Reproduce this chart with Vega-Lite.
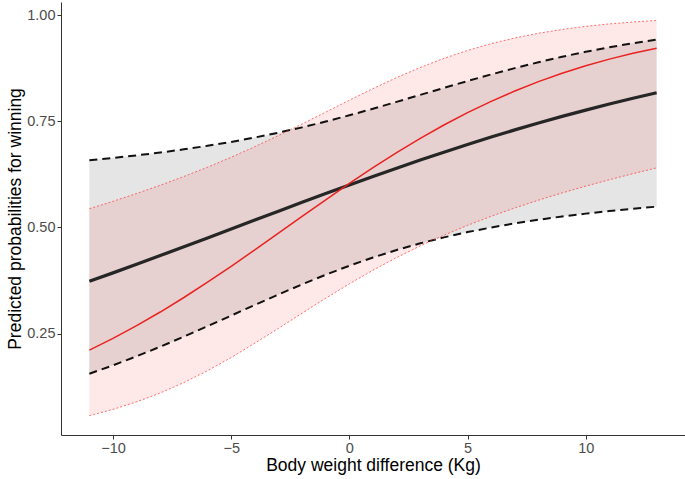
{
  "$schema": "https://vega.github.io/schema/vega-lite/v6.json",
  "width": 624,
  "height": 433,
  "autosize": "none",
  "padding": {"left": 61, "top": 2, "right": 0, "bottom": 44},
  "background": "white",
  "config": {
    "view": {"stroke": null},
    "font": "Liberation Sans",
    "axis": {"grid": false, "domainColor": "#333333", "domainWidth": 1, "tickColor": "#333333", "tickSize": 4, "tickWidth": 1, "labelColor": "#4d4d4d", "labelFontSize": 14.5, "labelPadding": 2, "titleColor": "#000000", "titleFontSize": 17.5, "titleFontWeight": "normal"}
  },
  "datasets": {
    "pred": [
      {"x": -11, "m": "black", "fit": 0.3731, "lo": 0.1553, "hi": 0.6582},
      {"x": -10, "m": "black", "fit": 0.3929, "lo": 0.1751, "hi": 0.6637},
      {"x": -9, "m": "black", "fit": 0.4131, "lo": 0.1964, "hi": 0.6697},
      {"x": -8, "m": "black", "fit": 0.4336, "lo": 0.2190, "hi": 0.6764},
      {"x": -7, "m": "black", "fit": 0.4544, "lo": 0.2427, "hi": 0.6839},
      {"x": -6, "m": "black", "fit": 0.4753, "lo": 0.2673, "hi": 0.6922},
      {"x": -5, "m": "black", "fit": 0.4963, "lo": 0.2923, "hi": 0.7014},
      {"x": -4, "m": "black", "fit": 0.5172, "lo": 0.3174, "hi": 0.7118},
      {"x": -3, "m": "black", "fit": 0.5382, "lo": 0.3420, "hi": 0.7232},
      {"x": -2, "m": "black", "fit": 0.5590, "lo": 0.3659, "hi": 0.7357},
      {"x": -1, "m": "black", "fit": 0.5796, "lo": 0.3886, "hi": 0.7494},
      {"x": 0, "m": "black", "fit": 0.5999, "lo": 0.4097, "hi": 0.7641},
      {"x": 1, "m": "black", "fit": 0.6199, "lo": 0.4292, "hi": 0.7796},
      {"x": 2, "m": "black", "fit": 0.6395, "lo": 0.4468, "hi": 0.7957},
      {"x": 3, "m": "black", "fit": 0.6586, "lo": 0.4625, "hi": 0.8122},
      {"x": 4, "m": "black", "fit": 0.6772, "lo": 0.4765, "hi": 0.8287},
      {"x": 5, "m": "black", "fit": 0.6953, "lo": 0.4890, "hi": 0.8448},
      {"x": 6, "m": "black", "fit": 0.7128, "lo": 0.4999, "hi": 0.8604},
      {"x": 7, "m": "black", "fit": 0.7297, "lo": 0.5096, "hi": 0.8752},
      {"x": 8, "m": "black", "fit": 0.7460, "lo": 0.5181, "hi": 0.8891},
      {"x": 9, "m": "black", "fit": 0.7615, "lo": 0.5257, "hi": 0.9020},
      {"x": 10, "m": "black", "fit": 0.7764, "lo": 0.5325, "hi": 0.9137},
      {"x": 11, "m": "black", "fit": 0.7907, "lo": 0.5385, "hi": 0.9244},
      {"x": 12, "m": "black", "fit": 0.8042, "lo": 0.5440, "hi": 0.9340},
      {"x": 13, "m": "black", "fit": 0.8171, "lo": 0.5489, "hi": 0.9426},
      {"x": -11, "m": "red", "fit": 0.2111, "lo": 0.0567, "hi": 0.5440},
      {"x": -10, "m": "red", "fit": 0.2387, "lo": 0.0713, "hi": 0.5615},
      {"x": -9, "m": "red", "fit": 0.2685, "lo": 0.0890, "hi": 0.5799},
      {"x": -8, "m": "red", "fit": 0.3007, "lo": 0.1100, "hi": 0.5993},
      {"x": -7, "m": "red", "fit": 0.3349, "lo": 0.1345, "hi": 0.6200},
      {"x": -6, "m": "red", "fit": 0.3709, "lo": 0.1625, "hi": 0.6419},
      {"x": -5, "m": "red", "fit": 0.4085, "lo": 0.1935, "hi": 0.6653},
      {"x": -4, "m": "red", "fit": 0.4472, "lo": 0.2271, "hi": 0.6902},
      {"x": -3, "m": "red", "fit": 0.4865, "lo": 0.2622, "hi": 0.7164},
      {"x": -2, "m": "red", "fit": 0.5260, "lo": 0.2979, "hi": 0.7437},
      {"x": -1, "m": "red", "fit": 0.5651, "lo": 0.3332, "hi": 0.7717},
      {"x": 0, "m": "red", "fit": 0.6035, "lo": 0.3672, "hi": 0.7997},
      {"x": 1, "m": "red", "fit": 0.6406, "lo": 0.3992, "hi": 0.8270},
      {"x": 2, "m": "red", "fit": 0.6761, "lo": 0.4290, "hi": 0.8530},
      {"x": 3, "m": "red", "fit": 0.7097, "lo": 0.4565, "hi": 0.8768},
      {"x": 4, "m": "red", "fit": 0.7412, "lo": 0.4817, "hi": 0.8982},
      {"x": 5, "m": "red", "fit": 0.7703, "lo": 0.5048, "hi": 0.9169},
      {"x": 6, "m": "red", "fit": 0.7970, "lo": 0.5262, "hi": 0.9329},
      {"x": 7, "m": "red", "fit": 0.8214, "lo": 0.5458, "hi": 0.9463},
      {"x": 8, "m": "red", "fit": 0.8435, "lo": 0.5641, "hi": 0.9573},
      {"x": 9, "m": "red", "fit": 0.8632, "lo": 0.5812, "hi": 0.9663},
      {"x": 10, "m": "red", "fit": 0.8808, "lo": 0.5972, "hi": 0.9736},
      {"x": 11, "m": "red", "fit": 0.8964, "lo": 0.6123, "hi": 0.9794},
      {"x": 12, "m": "red", "fit": 0.9102, "lo": 0.6266, "hi": 0.9839},
      {"x": 13, "m": "red", "fit": 0.9223, "lo": 0.6402, "hi": 0.9875}
    ]
  },
  "data": {"name": "pred"},
  "encoding": {
    "x": {"field": "x", "type": "quantitative", "scale": {"domain": [-12.2, 14.2], "nice": false, "zero": false},
      "axis": {"values": [-10, -5, 0, 5, 10], "title": "Body weight difference (Kg)", "titlePadding": 2, "labelExpr": "replace(datum.label, '-', '−')"}},
    "y": {"type": "quantitative", "scale": {"domain": [0.011, 1.031], "nice": false, "zero": false},
      "axis": {"values": [0.25, 0.5, 0.75, 1.0], "format": ".2f", "title": "Predicted probabilities for winning", "titlePadding": 2}}
  },
  "layer": [
    {"transform": [{"filter": "datum.m === 'black'"}], "mark": {"type": "area", "color": "#e5e5e5", "opacity": 1}, "encoding": {"y": {"field": "lo", "type": "quantitative"}, "y2": {"field": "hi"}}},
    {"transform": [{"filter": "datum.m === 'red'"}], "mark": {"type": "area", "color": "#ff0000", "opacity": 0.09}, "encoding": {"y": {"field": "lo", "type": "quantitative"}, "y2": {"field": "hi"}}},
    {"transform": [{"filter": "datum.m === 'black'"}], "mark": {"type": "line", "color": "#111111", "strokeWidth": 2, "strokeDash": [8, 5]}, "encoding": {"y": {"field": "lo", "type": "quantitative"}}},
    {"transform": [{"filter": "datum.m === 'black'"}], "mark": {"type": "line", "color": "#111111", "strokeWidth": 2, "strokeDash": [8, 5]}, "encoding": {"y": {"field": "hi", "type": "quantitative"}}},
    {"transform": [{"filter": "datum.m === 'black'"}], "mark": {"type": "line", "color": "#262626", "strokeWidth": 3.2}, "encoding": {"y": {"field": "fit", "type": "quantitative"}}},
    {"transform": [{"filter": "datum.m === 'red'"}], "mark": {"type": "line", "color": "#e8231f", "strokeWidth": 1.5}, "encoding": {"y": {"field": "fit", "type": "quantitative"}}},
    {"transform": [{"filter": "datum.m === 'red'"}], "mark": {"type": "line", "color": "#ff3030", "strokeWidth": 0.7, "strokeDash": [2, 2]}, "encoding": {"y": {"field": "lo", "type": "quantitative"}}},
    {"transform": [{"filter": "datum.m === 'red'"}], "mark": {"type": "line", "color": "#ff3030", "strokeWidth": 0.7, "strokeDash": [2, 2]}, "encoding": {"y": {"field": "hi", "type": "quantitative"}}}
  ]
}
